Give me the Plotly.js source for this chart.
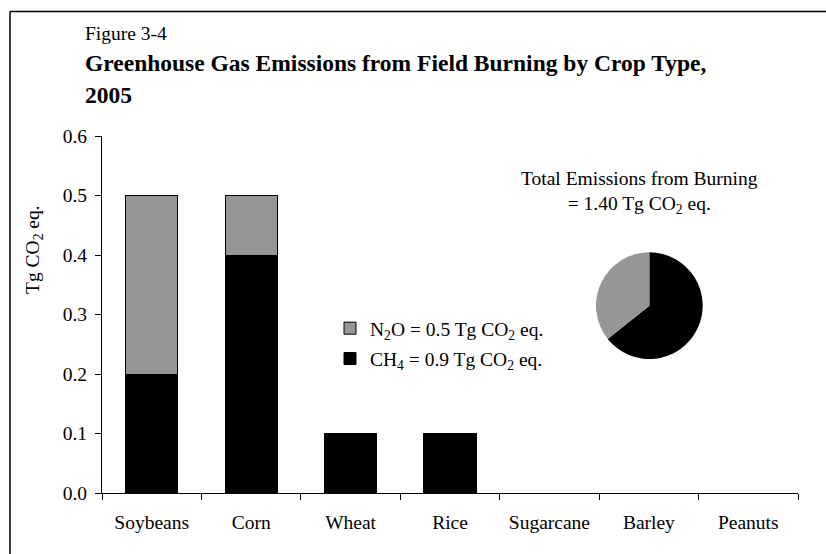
<!DOCTYPE html>
<html>
<head>
<meta charset="utf-8">
<script src="https://cdn.plot.ly/plotly-3.0.1.min.js"></script>
<style>
  body { margin: 0; background: #fff; }
  #chart { width: 826px; height: 554px; }
</style>
</head>
<body>
<div id="chart"></div>
<script>
var crops = ['Soybeans', 'Corn', 'Wheat', 'Rice', 'Sugarcane', 'Barley', 'Peanuts'];
var ch4 = [0.2, 0.4, 0.1, 0.1, 0, 0, 0];
var n2o = [0.3, 0.1, 0, 0, 0, 0, 0];
var gasNames = ['CH<sub>4</sub>', 'N<sub>2</sub>O'];
var gasTotals = [0.9, 0.5];
var totalBurning = '1.40';

var serif = 'Liberation Serif, Times New Roman, serif';
var grey = '#969696';

var trace1 = {
    x: crops,
    y: ch4,
    type: 'bar',
    name: gasNames[0] + ' = ' + gasTotals[0].toFixed(1) + ' Tg CO<sub>2</sub> eq.',
    legendgroup: 'ch4',
    legendrank: 2,
    marker: {color: '#000000', line: {color: '#000000', width: 1}},
    hoverinfo: 'x+y'
};

var trace2 = {
    x: crops,
    y: n2o,
    type: 'bar',
    name: gasNames[1] + ' = ' + gasTotals[1].toFixed(1) + ' Tg CO<sub>2</sub> eq.',
    legendgroup: 'n2o',
    legendrank: 1,
    marker: {color: grey, line: {color: '#000000', width: 1}},
    hoverinfo: 'x+y'
};

var pie = {
    type: 'pie',
    values: gasTotals,
    labels: ['CH4', 'N2O'],
    marker: {colors: ['#000000', grey], line: {width: 0}},
    sort: false,
    direction: 'clockwise',
    rotation: 0,
    textinfo: 'none',
    showlegend: false,
    domain: {x: [0.7098, 0.8631], y: [0.3754, 0.6742]}
};

var data = [trace1, trace2, pie];

var layout = {
    width: 826,
    height: 554,
    margin: {l: 102, r: 28, t: 136, b: 61},
    paper_bgcolor: '#ffffff',
    plot_bgcolor: '#ffffff',
    font: {family: serif, size: 19.5, color: '#000000'},
    barmode: 'stack',
    bargap: 0.475,
    xaxis: {
        type: 'category',
        range: [-0.5, 6.5],
        showline: true,
        linecolor: '#000000',
        linewidth: 1,
        ticks: 'outside',
        tickson: 'boundaries',
        ticklen: 6,
        tickcolor: '#000000',
        showgrid: false,
        ticklabelstandoff: 12,
        tickfont: {family: serif, size: 19.5, color: '#000000'},
        fixedrange: true
    },
    yaxis: {
        range: [0, 0.6],
        dtick: 0.1,
        tickformat: '.1f',
        showline: true,
        linecolor: '#000000',
        linewidth: 1,
        ticks: 'outside',
        ticklen: 6,
        tickcolor: '#000000',
        showgrid: false,
        zeroline: false,
        ticklabelstandoff: 4,
        tickfont: {family: serif, size: 19.5, color: '#000000'},
        fixedrange: true
    },
    legend: {
        x: 0.3276,
        y: 0.5154,
        xanchor: 'left',
        yanchor: 'top',
        traceorder: 'grouped',
        tracegroupgap: 2,
        bgcolor: 'rgba(0,0,0,0)',
        font: {family: serif, size: 19.5, color: '#000000'}
    },
    annotations: [
        {text: 'Figure 3-4', xref: 'paper', yref: 'paper', x: -0.0277, y: 1.2885,
         xanchor: 'left', yanchor: 'middle', showarrow: false,
         font: {family: serif, size: 19.5}},
        {text: '<b>Greenhouse Gas Emissions from Field Burning by Crop Type,</b>',
         xref: 'paper', yref: 'paper', x: -0.0277, y: 1.2045,
         xanchor: 'left', yanchor: 'middle', showarrow: false,
         font: {family: serif, size: 23.5}},
        {text: '<b>2005</b>', xref: 'paper', yref: 'paper', x: -0.0277, y: 1.1148,
         xanchor: 'left', yanchor: 'middle', showarrow: false,
         font: {family: serif, size: 23.5}},
        {text: 'Tg CO<sub>2</sub> eq.', xref: 'paper', yref: 'paper', x: -0.0977, y: 0.6807,
         xanchor: 'center', yanchor: 'middle', textangle: -90, showarrow: false,
         font: {family: serif, size: 19.5}},
        {text: 'Total Emissions from Burning<br>= ' + totalBurning + ' Tg CO<sub>2</sub> eq.',
         xref: 'paper', yref: 'paper', x: 0.7716, y: 0.8417,
         xanchor: 'center', yanchor: 'middle', align: 'center', showarrow: false,
         font: {family: serif, size: 19.5}}
    ],
    shapes: [
        // frame round the figure (right and bottom edges fall outside the picture)
        {type: 'line', xref: 'paper', yref: 'paper', x0: -0.1322, x1: 1.046, y0: 1.3487, y1: 1.3487,
         line: {color: '#000000', width: 1.5}},
        {type: 'line', xref: 'paper', yref: 'paper', x0: -0.1322, x1: -0.1322, y0: 1.3487, y1: -0.19,
         line: {color: '#000000', width: 1.5}}
    ]
};

Plotly.newPlot('chart', data, layout, {displayModeBar: false, staticPlot: true});
</script>
</body>
</html>
